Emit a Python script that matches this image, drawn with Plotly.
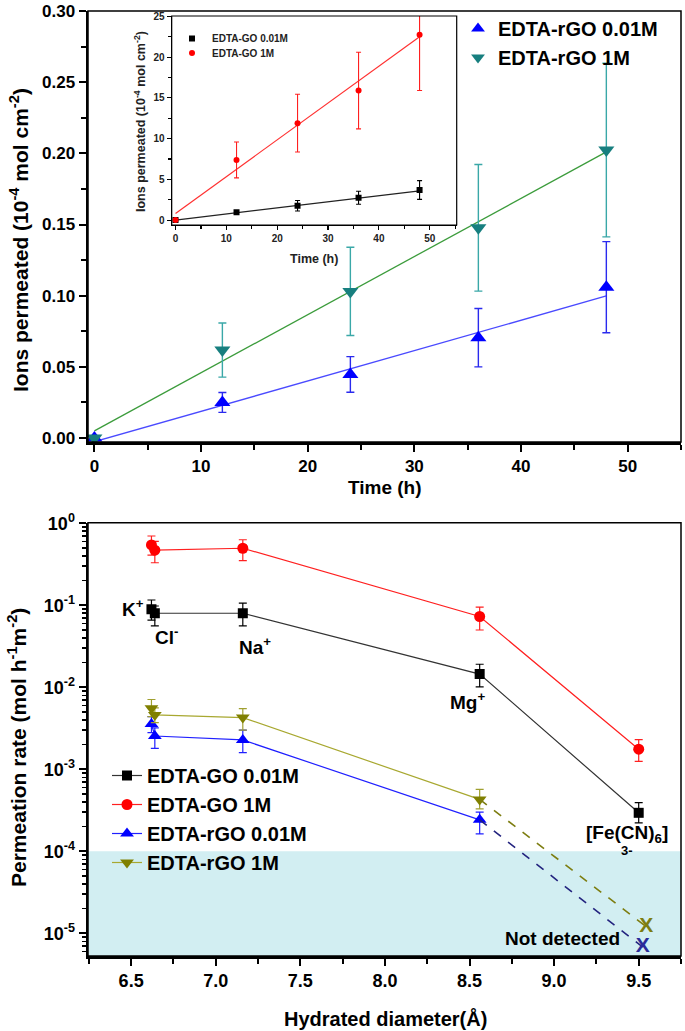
import plotly.graph_objects as go

# ---------------- data: top panel (EDTA-rGO) ----------------
time_h = [0, 12, 24, 36, 48]
rgo001_ions = [0.0, 0.025, 0.0447, 0.0705, 0.106]
rgo001_err = [0.0, 0.007, 0.0125, 0.0205, 0.032]
rgo1_ions = [0.0, 0.0618, 0.103, 0.1477, 0.2023]
rgo1_err = [0.0, 0.019, 0.031, 0.0445, 0.061]
fit_time = [0, 48]
rgo001_fit = [-0.0026, 0.0998]
rgo1_fit = [0.005, 0.201]

# ---------------- data: inset (EDTA-GO) ----------------
go001_ions = [0.0, 0.95, 1.76, 2.74, 3.69]
go001_err = [0.0, 0.2, 0.65, 0.8, 1.15]
go1_ions = [0.0, 7.38, 11.9, 15.9, 22.75]
go1_err = [0.0, 2.2, 3.55, 4.7, 6.85]
go001_fit = [0.0, 3.6]
go1_fit = [0.82, 22.5]

# ---------------- data: bottom panel ----------------
diam = [6.62, 6.64, 7.16, 8.56, 9.50]
go001_rate = [0.0895, 0.080, 0.080, 0.0145, 0.000295]
go001_hi = [0.116, 0.098, 0.106, 0.0191, 0.000392]
go001_lo = [0.066, 0.056, 0.056, 0.0101, 0.000222]
go1_rate = [0.545, 0.47, 0.496, 0.073, 0.00176]
go1_hi = [0.70, 0.60, 0.63, 0.095, 0.0023]
go1_lo = [0.41, 0.33, 0.35, 0.05, 0.00125]
rgo001_rate = [0.00357, 0.00255, 0.00228, 0.000242]
rgo001_hi = [0.0044, 0.0032, 0.0030, 0.00030]
rgo001_lo = [0.0028, 0.0018, 0.0016, 0.000163]
rgo1_rate = [0.00555, 0.0046, 0.00427, 0.00043]
rgo1_hi = [0.0071, 0.0056, 0.0055, 0.00057]
rgo1_lo = [0.0044, 0.0037, 0.0030, 0.00033]
nd_diam = [9.524, 9.544]          # rGO 0.01M, rGO 1M "not detected"
nd_rate = [6.8e-6, 1.21e-5]
detection_limit = 1e-4
log_major = [1e-5, 1e-4, 1e-3, 1e-2, 1e-1, 1]
log_major_text = ["10<sup>-5</sup>", "10<sup>-4</sup>", "10<sup>-3</sup>",
                  "10<sup>-2</sup>", "10<sup>-1</sup>", "10<sup>0</sup>"]
log_minor = [m * 10.0 ** e for e in range(-6, 0) for m in range(2, 10)]

FONT = "Arial, Liberation Sans, sans-serif"

W, H = 685, 1031


def PX(px):
    return px / W


def PY(py):
    return 1 - py / H


def bold(size, color="black"):
    return dict(family=FONT, size=size, color=color, weight="bold")


def plus_minus(val, hi, lo):
    return [h - v for v, h in zip(val, hi)], [v - l for v, l in zip(val, lo)]


fig = go.Figure()

# ---- top main traces ----
fig.add_trace(go.Scatter(x=fit_time, y=rgo001_fit, mode="lines", line=dict(color="#4a4aff", width=1.3),
                         showlegend=False, xaxis="x", yaxis="y"))
fig.add_trace(go.Scatter(x=fit_time, y=rgo1_fit, mode="lines", line=dict(color="#3c9c3c", width=1.3),
                         showlegend=False, xaxis="x", yaxis="y"))
fig.add_trace(go.Scatter(x=time_h, y=rgo001_ions, mode="markers", name="EDTA-rGO 0.01M",
                         marker=dict(symbol="triangle-up", size=14, color="#0000ff"),
                         error_y=dict(type="data", array=rgo001_err, color="#2a2aee", thickness=1.4, width=4),
                         legend="legend", xaxis="x", yaxis="y"))
fig.add_trace(go.Scatter(x=time_h, y=rgo1_ions, mode="markers", name="EDTA-rGO 1M",
                         marker=dict(symbol="triangle-down", size=14, color="#177f7f"),
                         error_y=dict(type="data", array=rgo1_err, color="#3aa8a8", thickness=1.4, width=4),
                         legend="legend", xaxis="x", yaxis="y"))

# ---- inset traces ----
fig.add_trace(go.Scatter(x=fit_time, y=go001_fit, mode="lines", line=dict(color="#222222", width=1.2),
                         showlegend=False, xaxis="x2", yaxis="y2"))
fig.add_trace(go.Scatter(x=fit_time, y=go1_fit, mode="lines", line=dict(color="#ff3030", width=1.2),
                         showlegend=False, xaxis="x2", yaxis="y2"))
fig.add_trace(go.Scatter(x=time_h, y=go001_ions, mode="markers", name="EDTA-GO 0.01M",
                         marker=dict(symbol="square", size=6, color="black"),
                         error_y=dict(type="data", array=go001_err, color="black", thickness=1.1, width=2.5),
                         legend="legend2", xaxis="x2", yaxis="y2"))
fig.add_trace(go.Scatter(x=time_h, y=go1_ions, mode="markers", name="EDTA-GO 1M",
                         marker=dict(symbol="circle", size=6, color="#ff0000"),
                         error_y=dict(type="data", array=go1_err, color="#ff2020", thickness=1.1, width=2.5),
                         legend="legend4", xaxis="x2", yaxis="y2"))

# ---- bottom traces ----
p, m = plus_minus(go001_rate, go001_hi, go001_lo)
fig.add_trace(go.Scatter(x=diam, y=go001_rate, mode="lines+markers", name="EDTA-GO 0.01M",
                         line=dict(color="#333333", width=1.2),
                         marker=dict(symbol="square", size=10, color="black"),
                         error_y=dict(type="data", array=p, arrayminus=m, color="black", thickness=1.2, width=4),
                         legend="legend3", xaxis="x3", yaxis="y3"))
p, m = plus_minus(go1_rate, go1_hi, go1_lo)
fig.add_trace(go.Scatter(x=diam, y=go1_rate, mode="lines+markers", name="EDTA-GO 1M",
                         line=dict(color="#ff2020", width=1.2),
                         marker=dict(symbol="circle", size=11, color="#ff0000"),
                         error_y=dict(type="data", array=p, arrayminus=m, color="#ff2020", thickness=1.2, width=4),
                         legend="legend3", xaxis="x3", yaxis="y3"))
p, m = plus_minus(rgo001_rate, rgo001_hi, rgo001_lo)
fig.add_trace(go.Scatter(x=diam[:4], y=rgo001_rate, mode="lines+markers", name="EDTA-rGO 0.01M",
                         line=dict(color="#2020ff", width=1.2),
                         marker=dict(symbol="triangle-up", size=12, color="#0000ff"),
                         error_y=dict(type="data", array=p, arrayminus=m, color="#2020ff", thickness=1.2, width=4),
                         legend="legend3", xaxis="x3", yaxis="y3"))
p, m = plus_minus(rgo1_rate, rgo1_hi, rgo1_lo)
fig.add_trace(go.Scatter(x=diam[:4], y=rgo1_rate, mode="lines+markers", name="EDTA-rGO 1M",
                         line=dict(color="#a8a830", width=1.2),
                         marker=dict(symbol="triangle-down", size=12, color="#808000"),
                         error_y=dict(type="data", array=p, arrayminus=m, color="#a0a030", thickness=1.2, width=4),
                         legend="legend3", xaxis="x3", yaxis="y3"))
# dashed extrapolation to "not detected"
fig.add_trace(go.Scatter(x=[diam[3], nd_diam[0]], y=[rgo001_rate[3], nd_rate[0]], mode="lines",
                         line=dict(color="#23237f", width=1.6, dash="dash"), showlegend=False,
                         xaxis="x3", yaxis="y3"))
fig.add_trace(go.Scatter(x=[diam[3], nd_diam[1]], y=[rgo1_rate[3], nd_rate[1]], mode="lines",
                         line=dict(color="#7d7d10", width=1.6, dash="dash"), showlegend=False,
                         xaxis="x3", yaxis="y3"))
fig.add_trace(go.Scatter(x=[nd_diam[0]], y=[nd_rate[0]], mode="text", text=["X"],
                         textfont=bold(21, "#2b2b9a"), showlegend=False, xaxis="x3", yaxis="y3"))
fig.add_trace(go.Scatter(x=[nd_diam[1]], y=[nd_rate[1]], mode="text", text=["X"],
                         textfont=bold(21, "#7d7d10"), showlegend=False, xaxis="x3", yaxis="y3"))

# ---------------- layout ----------------
main_x = [PX(88), PX(681)]
ax_common = dict(showline=True, linecolor="black", ticks="outside", tickcolor="black",
                 showgrid=False, zeroline=False, automargin=False)

fig.update_layout(
    template="none",
    width=W, height=H,
    margin=dict(l=0, r=0, t=0, b=0, pad=0, autoexpand=False),
    paper_bgcolor="white", plot_bgcolor="white",
    font=dict(family=FONT, color="black"),
    xaxis=dict(**ax_common, domain=main_x, anchor="y", range=[-0.6, 55], linewidth=2.5,
               tickwidth=2, ticklen=7, dtick=10, tick0=0,
               minor=dict(ticks="outside", dtick=5, ticklen=5, tickwidth=2, tickcolor="black"),
               tickfont=bold(17)),
    yaxis=dict(**ax_common, domain=[PY(442), PY(11)], anchor="x",
               range=[-0.0028, 0.300], linewidth=2.5, tickwidth=2, ticklen=7,
               dtick=0.05, tick0=0, tickformat=".2f", ticklabeloverflow="allow",
               minor=dict(ticks="outside", dtick=0.025, ticklen=5, tickwidth=2, tickcolor="black"),
               tickfont=bold(17)),
    xaxis2=dict(**ax_common, domain=[PX(171.7), PX(456.7)], anchor="y2", range=[-0.75, 55.3],
                linewidth=1.2, tickwidth=1.2, ticklen=4, dtick=10, tick0=0,
                minor=dict(ticks="outside", dtick=5, ticklen=3, tickwidth=1.2, tickcolor="black"),
                tickfont=bold(10, "#222")),
    yaxis2=dict(**ax_common, domain=[PY(225), PY(16)], anchor="x2", range=[-0.6, 25.05],
                linewidth=1.2, tickwidth=1.2, ticklen=4, dtick=5, tick0=0,
                minor=dict(ticks="outside", dtick=2.5, ticklen=3, tickwidth=1.2, tickcolor="black"),
                tickfont=bold(10, "#222")),
    xaxis3=dict(**ax_common, domain=main_x, anchor="y3", range=[6.245, 9.75], linewidth=2.5,
                tickwidth=2, ticklen=7, dtick=0.5, tick0=6.5, tickformat=".1f",
                minor=dict(ticks="outside", dtick=0.25, ticklen=5, tickwidth=2, tickcolor="black"),
                tickfont=bold(18)),
    yaxis3=dict(**ax_common, domain=[PY(956), PY(522.7)], anchor="x3", type="log",
                range=[-5.276, 0.007], linewidth=2.5, tickwidth=2, ticklen=7,
                tickvals=log_major, ticktext=log_major_text,
                minor=dict(ticks="outside", tickvals=log_minor, ticklen=4, tickwidth=1.5, tickcolor="black"),
                tickfont=bold(18)),
    legend=dict(x=PX(458), y=PY(9), xanchor="left", yanchor="top", bgcolor="rgba(0,0,0,0)",
                font=bold(20), itemsizing="constant", tracegroupgap=0),
    legend2=dict(x=PX(172), y=PY(24), xanchor="left", yanchor="top", bgcolor="rgba(0,0,0,0)",
                 font=bold(10, "#222"), itemwidth=30),
    legend4=dict(x=PX(172), y=PY(38.5), xanchor="left", yanchor="top", bgcolor="rgba(0,0,0,0)",
                 font=bold(10, "#222"), itemwidth=30),
    legend3=dict(x=PX(107), y=PY(756), xanchor="left", yanchor="top", bgcolor="rgba(0,0,0,0)",
                 font=bold(20), tracegroupgap=0),
)

# frames (thin top/right borders) and detection-limit band
fig.add_shape(type="rect", xref="x domain", yref="y domain", x0=0, x1=1, y0=0, y1=1,
              line=dict(color="black", width=1.5), layer="above")
fig.add_shape(type="rect", xref="x2 domain", yref="y2 domain", x0=0, x1=1, y0=0, y1=1,
              line=dict(color="black", width=1.2), layer="above")
fig.add_shape(type="rect", xref="x3 domain", yref="y3 domain", x0=0, x1=1, y0=0, y1=1,
              line=dict(color="black", width=1.5), layer="above")
fig.add_shape(type="rect", xref="x3 domain", yref="y3", x0=0, x1=1, y0=1e-7, y1=detection_limit,
              fillcolor="#d2eef2", line=dict(width=0), layer="below")


# axis titles
def title(text, x, y, size, angle=0, color="black"):
    fig.add_annotation(text=text, xref="paper", yref="paper", x=PX(x), y=PY(y),
                       xanchor="center", yanchor="middle", textangle=angle, showarrow=False,
                       font=bold(size, color))


title("Ions permeated (10<sup>-4</sup> mol cm<sup>-2</sup>)", 19, 240, 21, -90)
title("Time (h)", 385, 487, 19)
title("Ions permeated (10<sup>-4</sup> mol cm<sup>-2</sup>)", 140, 122, 12.5, -90, "#222")
title("Time (h)", 314, 259, 12.5, 0, "#222")
title("Permeation rate (mol h<sup>-1</sup>m<sup>-2</sup>)", 17, 748, 21, -90)
title("Hydrated diameter(Å)", 385, 1018, 20)

# ion labels on bottom panel (log axis -> log10 positions)
ion_notes = [("K<sup>+</sup>", 6.508, -1.03), ("Cl<sup>-</sup>", 6.706, -1.38),
             ("Na<sup>+</sup>", 7.23, -1.50), ("Mg<sup>+</sup>", 8.49, -2.17),
             ("[Fe(CN)<sub>6</sub>]", 9.43, -3.79), ("3-", 9.43, -3.99),
             ("Not detected", 9.05, -5.06)]
for txt, xx, yy in ion_notes:
    fig.add_annotation(text=txt, xref="x3", yref="y3", x=xx, y=yy, showarrow=False,
                       xanchor="center", yanchor="middle",
                       font=bold(13 if txt == "3-" else 19))

# remove the browser's default 8px page margin so the figure sits at the window origin
fig.write_html("out.html", config={"displayModeBar": False, "staticPlot": True},
               post_script="document.body.style.margin='0';")
